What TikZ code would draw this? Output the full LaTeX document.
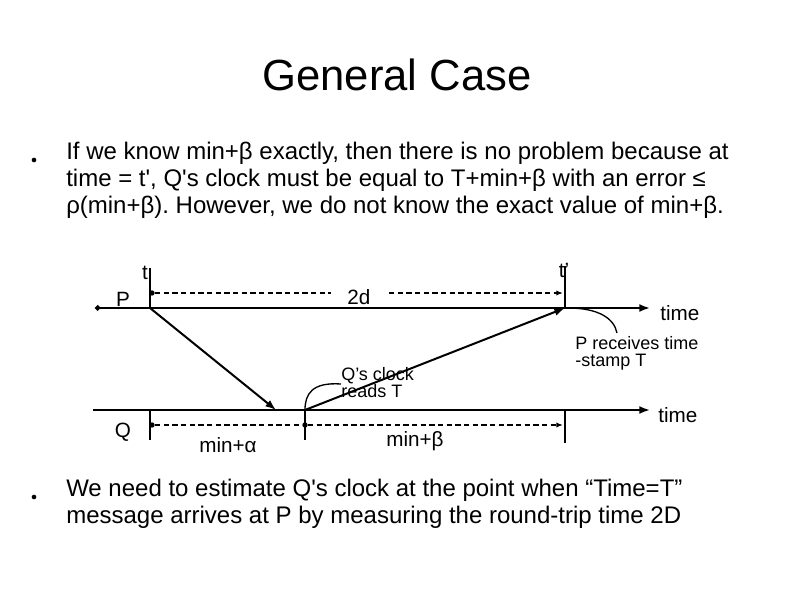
\documentclass[tikz,border=0pt]{standalone}
\usepackage{fontspec}
\setmainfont{Liberation Sans}[Ligatures=TeXOff]
\usetikzlibrary{arrows.meta}
\frenchspacing

\begin{document}
\begin{tikzpicture}[
    x=0.75pt, y=-0.75pt,
    axis/.style={line width=1.5pt, -{Latex[length=8pt, width=6pt]}},
    msg/.style={line width=1.5pt, -{Latex[length=8pt, width=6pt]}},
    tick/.style={line width=0.9pt},
    span/.style={line width=1.1pt, dash pattern=on 4pt off 2.5pt, -{Latex[length=5pt, width=4pt]}},
    callout/.style={line width=1pt},
    lbl/.style={font=\fontsize{15.5}{18}\selectfont, inner sep=0pt},
    note/.style={font=\fontsize{13.5}{13.2}\selectfont, align=left, inner sep=0pt, anchor=north west},
    body/.style={font=\fontsize{18}{20.25}\selectfont, align=left, inner sep=0pt, anchor=north west},
    dotmark/.style={circle, fill, inner sep=0pt, minimum size=4pt},
]
\useasboundingbox (0,0) rectangle (794,595);

% Title and text
\node[font=\fontsize{32.7}{36}\selectfont, anchor=base] (title) at (397,91) {General Case};
\node[dotmark, minimum size=3.5pt] (bul1) at (34,160) {};
\node[body] (text1) at (66,142) {If we know min+β exactly, then there is no problem because at\\
time = t', Q's clock must be equal to T+min+β with an error ≤\\
ρ(min+β). However, we do not know the exact value of min+β.};
\node[dotmark, minimum size=3.5pt] (bul2) at (34,497) {};
\node[body] (text2) at (66,479) {We need to estimate Q's clock at the point when “Time=T”\\
message arrives at P by measuring the round-trip time 2D};

% Time lines
\coordinate (pleft) at (95,308);
\coordinate (pright) at (650,308);
\coordinate (qleft) at (93,410);
\coordinate (qright) at (650,410);
\draw[axis, {Circle[length=4pt]}-{Latex[length=8pt, width=6pt]}] (pleft) -- (pright);
\draw[axis] (qleft) -- (qright);
\node[lbl, anchor=base] (plabel) at (123,307) {P};
\node[lbl] (qlabel) at (123,432) {Q};
\node[lbl, anchor=west] (ptime) at (660,313) {time};
\node[lbl, anchor=west] (qtime) at (658,415) {time};

% Ticks on P
\coordinate (tsend) at (150,308);
\coordinate (tsendtop) at (150,268);
\coordinate (trecv) at (565,308);
\coordinate (trecvtop) at (565,266);
\draw[tick] (tsend) -- (tsendtop);
\draw[tick] (trecv) -- (trecvtop);
\node[lbl, anchor=base] (tlabel) at (145,280) {t};
\node[lbl, anchor=base] (tplabel) at (564,278) {t’};

% Ticks on Q
\coordinate (qa) at (150,410);
\coordinate (qabot) at (150,440);
\coordinate (qb) at (305,410);
\coordinate (qbbot) at (305,440);
\coordinate (qc) at (565,410);
\coordinate (qcbot) at (565,443);
\draw[tick] (qa) -- (qabot);
\draw[tick] (qb) -- (qbbot);
\draw[tick] (qc) -- (qcbot);

% Round trip
\node[dotmark] (rtstart) at (152,293) {};
\coordinate (rtend) at (563,293);
\draw[span] (rtstart) -- node[lbl, fill=white, inner xsep=12pt, inner ysep=2pt, yshift=-3pt] (twod) {2d} (rtend);

% Intervals on Q
\node[dotmark] (istart) at (152,425) {};
\node[dotmark] (imid) at (305,425) {};
\coordinate (iend) at (563,425);
\draw[span, -] (istart) -- (imid);
\draw[span] (imid) -- (iend);
\node[lbl] (alpha) at (228,445) {min+α};
\node[lbl] (beta) at (415,441) {min+β};

% Messages
\coordinate (arrive) at (276,410);
\draw[msg] (tsend) -- (arrive);
\draw[msg] (qb) -- (trecv);

% Callouts
\node[note] (qclock) at (341,367) {Q’s clock\\reads T};
\node[note] (precv) at (575,336) {P receives time\\-stamp T};
\draw[callout] ([yshift=-1pt]qclock.west) .. controls (312,382) and (305,394) .. (qb);
\draw[callout] ([xshift=2pt]trecv) .. controls (598,308) and (614,318) .. (617,333);

\end{tikzpicture}
\end{document}
